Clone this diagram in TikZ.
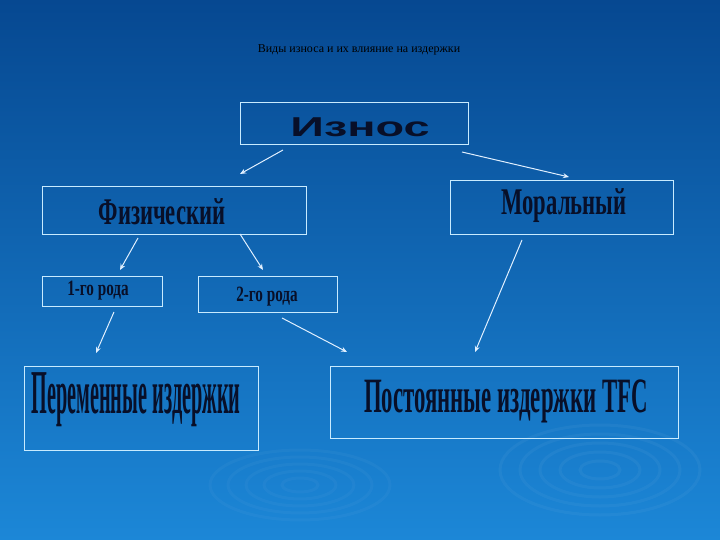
\documentclass[tikz,border=0pt]{standalone}
\usepackage{fontspec}
\usetikzlibrary{arrows.meta}
\setmainfont{Liberation Serif}
\newfontfamily\wide{Liberation Sans}
\begin{document}
\begin{tikzpicture}[x=1pt,y=-1pt,
  bx/.style={draw={rgb,255:red,200;green,235;blue,255},line width=0.9pt},
  arr/.style={draw={rgb,255:red,225;green,240;blue,255},line width=1pt,-{Stealth[length=6pt,width=5pt]}},
  wa/.style={text={rgb,255:red,8;green,15;blue,40},font=\bfseries,inner sep=0pt}]
\shade[top color={rgb,255:red,6;green,72;blue,145},bottom color={rgb,255:red,28;green,135;blue,215}] (0,0) rectangle (720,540);
\useasboundingbox (0,0) rectangle (720,540);
\foreach \r in {20,40,60,80,100}{
  \draw[white,opacity=0.04,line width=3pt] (600,470) ellipse ({\r} and {\r*0.45});
  \draw[white,opacity=0.03,line width=3pt] (300,485) ellipse ({\r*0.9} and {\r*0.35});}
\node (title) at (359,50) {\fontsize{12}{14}\selectfont Виды износа и их влияние на издержки};
\draw[bx] (240,102) rectangle (468,144);
\draw[bx] (42,186) rectangle (306,234);
\draw[bx] (450,180) rectangle (673,234);
\draw[bx] (42,276) rectangle (162,306);
\draw[bx] (198,276) rectangle (337,312);
\draw[bx] (24,366) rectangle (258,450);
\draw[bx] (330,366) rectangle (678,438);
\node[wa,font=\wide\bfseries,xscale=1.8,yscale=1.05] (iznos) at (360,127) {\fontsize{26}{28}\selectfont Износ};
\node[wa,xscale=0.78,yscale=1.3] (fiz) at (162,212) {\fontsize{29}{30}\selectfont Физический};
\node[wa,xscale=0.78,yscale=1.3] (mor) at (564,206) {\fontsize{29}{30}\selectfont Моральный};
\node[wa,xscale=0.8,yscale=1.15] (r1) at (98,291) {\fontsize{19}{20}\selectfont 1-го рода};
\node[wa,xscale=0.8,yscale=1.15] (r2) at (267,297) {\fontsize{19}{20}\selectfont 2-го рода};
\node[wa,xscale=0.52,yscale=1.6] (per) at (136,400) {\fontsize{39}{40}\selectfont Переменные издержки};
\node[wa,xscale=0.6,yscale=1.3] (post) at (506,401) {\fontsize{38}{40}\selectfont Постоянные издержки TFC};
\coordinate (a1) at (283,150); \coordinate (b1) at (240,174);
\coordinate (a2) at (462,152); \coordinate (b2) at (569,177);
\coordinate (a3) at (138,238); \coordinate (b3) at (120,270);
\coordinate (a4) at (240,234); \coordinate (b4) at (263,270);
\coordinate (a5) at (114,312); \coordinate (b5) at (96,353);
\coordinate (a6) at (282,318); \coordinate (b6) at (347,352);
\coordinate (a7) at (522,240); \coordinate (b7) at (475,352);
\foreach \i in {1,...,7}{\draw[arr] (a\i) -- (b\i);}
\end{tikzpicture}
\end{document}
